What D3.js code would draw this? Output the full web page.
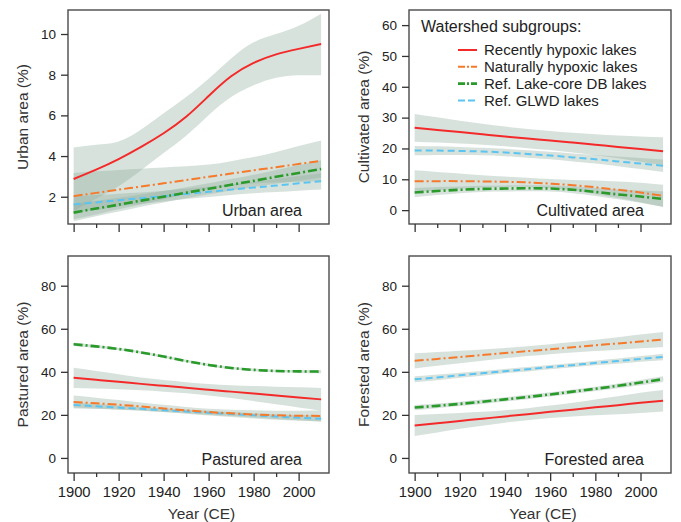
<!DOCTYPE html>
<html>
<head>
<meta charset="utf-8">
<script src="https://cdn.jsdelivr.net/npm/d3@7"></script>
<style>
  body { margin: 0; background: #fff; }
  svg { display: block; font-family: "Liberation Sans", Arial, sans-serif; }
</style>
</head>
<body>
<script>
var svgW = 681;
var svgH = 522;

// data
var years = [1900, 1910, 1920, 1930, 1940, 1950, 1960, 1970, 1980, 1990, 2000, 2010];
var groups = ["Recently hypoxic lakes", "Naturally hypoxic lakes", "Ref. Lake-core DB lakes", "Ref. GLWD lakes"];
var yearTicks = [1900, 1910, 1920, 1930, 1940, 1950, 1960, 1970, 1980, 1990, 2000];

var urbanTicks = [2, 4, 6, 8, 10];
var cultTicks = [0, 10, 20, 30, 40, 50, 60];
var pastTicks = [0, 20, 40, 60, 80];
var forTicks = [0, 20, 40, 60, 80];

// urban area
var urbanRed = [2.87, 3.33, 3.85, 4.45, 5.12, 5.93, 6.95, 7.92, 8.58, 9.0, 9.27, 9.51];
var urbanRedLo = [1.3, 1.9, 2.52, 3.3, 4.15, 5.0, 6.01, 6.9, 7.48, 7.85, 7.97, 7.97];
var urbanRedHi = [4.42, 4.55, 4.71, 5.3, 6.1, 6.9, 7.8, 8.8, 9.59, 10.0, 10.4, 11.0];
var urbanOrange = [2.03, 2.19, 2.35, 2.50, 2.66, 2.82, 2.98, 3.14, 3.30, 3.45, 3.61, 3.77];
var urbanOrangeLo = [0.89, 1.13, 1.38, 1.62, 1.88, 2.14, 2.38, 2.53, 2.65, 2.7, 2.72, 2.77];
var urbanOrangeHi = [3.17, 3.25, 3.32, 3.38, 3.44, 3.5, 3.58, 3.75, 3.95, 4.2, 4.5, 4.77];
var urbanGreen = [1.22, 1.42, 1.61, 1.81, 2.0, 2.2, 2.39, 2.59, 2.78, 2.98, 3.17, 3.37];
var urbanGreenCi = [0.42, 0.38, 0.34, 0.3, 0.28, 0.27, 0.27, 0.28, 0.3, 0.34, 0.38, 0.42];
var urbanBlue = [1.62, 1.72, 1.83, 1.93, 2.03, 2.14, 2.24, 2.35, 2.45, 2.55, 2.66, 2.76];
var urbanBlueCi = [0.4, 0.36, 0.32, 0.28, 0.26, 0.25, 0.25, 0.26, 0.28, 0.32, 0.36, 0.4];

// cultivated area
var cultRed = [26.7, 26.0, 25.3, 24.6, 23.9, 23.2, 22.6, 21.9, 21.2, 20.5, 19.8, 19.1];
var cultRedCi = [4.5, 4.1, 3.7, 3.4, 3.2, 3.1, 3.1, 3.2, 3.4, 3.7, 4.1, 4.5];
var cultOrange = [9.4, 9.4, 9.4, 9.3, 9.2, 9.0, 8.6, 8.1, 7.4, 6.6, 5.7, 4.6];
var cultOrangeCi = [3.5, 3.0, 2.5, 2.0, 1.7, 1.5, 1.5, 1.7, 2.2, 2.7, 3.2, 3.6];
var cultGreen = [5.7, 6.2, 6.6, 6.9, 7.0, 7.1, 7.0, 6.6, 5.9, 5.1, 4.4, 3.6];
var cultGreenCi = [1.5, 1.3, 1.1, 1.0, 1.0, 1.0, 1.0, 1.1, 1.3, 1.6, 2.0, 2.5];
var cultBlue = [19.3, 19.3, 19.2, 19.0, 18.7, 18.2, 17.7, 17.1, 16.5, 15.8, 15.1, 14.4];
var cultBlueCi = [1.5, 1.4, 1.3, 1.2, 1.2, 1.2, 1.2, 1.3, 1.4, 1.6, 1.8, 2.0];

// pastured area
var pastRed = [37.2, 36.3, 35.4, 34.4, 33.5, 32.6, 31.7, 30.8, 29.9, 29.0, 28.1, 27.2];
var pastRedCi = [4.7, 4.1, 3.5, 3.0, 2.7, 2.6, 2.7, 3.0, 3.5, 4.1, 4.7, 5.3];
var pastOrange = [26.0, 25.4, 24.7, 23.9, 23.0, 22.1, 21.3, 20.7, 20.2, 19.8, 19.6, 19.5];
var pastOrangeCi = [3.0, 2.6, 2.2, 1.9, 1.7, 1.6, 1.6, 1.7, 1.9, 2.1, 2.3, 2.5];
var pastGreen = [52.8, 51.8, 50.6, 49.0, 47.1, 45.0, 43.2, 41.8, 40.9, 40.4, 40.2, 40.1];
var pastGreenCi = [0.8, 0.7, 0.6, 0.6, 0.6, 0.6, 0.6, 0.6, 0.6, 0.6, 0.7, 0.8];
var pastBlue = [24.6, 24.0, 23.4, 22.8, 22.2, 21.6, 21.0, 20.4, 19.8, 19.2, 18.7, 18.2];
var pastBlueCi = [1.2, 1.1, 1.0, 0.9, 0.9, 0.9, 0.9, 0.9, 1.0, 1.1, 1.2, 1.4];

// forested area
var forRed = [15.1, 16.1, 17.2, 18.2, 19.3, 20.3, 21.4, 22.4, 23.5, 24.5, 25.6, 26.6];
var forRedCi = [4.9, 4.3, 3.7, 3.2, 2.9, 2.8, 2.9, 3.2, 3.7, 4.2, 4.7, 5.0];
var forOrange = [45.1, 46.0, 46.9, 47.8, 48.7, 49.6, 50.5, 51.4, 52.3, 53.2, 54.1, 55.0];
var forOrangeCi = [3.5, 3.2, 2.9, 2.6, 2.4, 2.3, 2.3, 2.4, 2.6, 2.9, 3.2, 3.5];
var forGreen = [23.4, 24.2, 25.1, 26.1, 27.2, 28.3, 29.5, 30.8, 32.1, 33.5, 35.0, 36.6];
var forGreenCi = [1.2, 1.1, 1.0, 1.0, 1.0, 1.0, 1.0, 1.0, 1.0, 1.1, 1.2, 1.3];
var forBlue = [36.5, 37.4, 38.4, 39.3, 40.3, 41.2, 42.2, 43.1, 44.1, 45.0, 46.0, 46.9];
var forBlueCi = [1.4, 1.3, 1.2, 1.1, 1.0, 1.0, 1.0, 1.0, 1.1, 1.2, 1.3, 1.5];

// helpers to turn value + half width into lower/upper
function lo(v, c) { return v.map(function(d, i) { return d - c[i]; }); }
function hi(v, c) { return v.map(function(d, i) { return d + c[i]; }); }

// line styles: red, orange, green, blue
var colors = ["#f42a2a", "#f57a2c", "#2a9a2a", "#5cc4f0"];
var dashes = [null, "9,3,2,3", "9,3,2,3", "7,4"];
var widths = [2, 2, 2.6, 2];

var panels = [
  { x0: 68, x1: 329, y0: 10, y1: 224, dom: [0.66, 11.18], ticks: urbanTicks,
    title: "Urban area (%)", label: "Urban area", xlab: false,
    series: [
      [urbanRed, urbanRedLo, urbanRedHi],
      [urbanOrange, urbanOrangeLo, urbanOrangeHi],
      [urbanGreen, lo(urbanGreen, urbanGreenCi), hi(urbanGreen, urbanGreenCi)],
      [urbanBlue, lo(urbanBlue, urbanBlueCi), hi(urbanBlue, urbanBlueCi)]
    ] },
  { x0: 409, x1: 671, y0: 10, y1: 224, dom: [-4.5, 64.9], ticks: cultTicks,
    title: "Cultivated area (%)", label: "Cultivated area", xlab: false,
    series: [
      [cultRed, lo(cultRed, cultRedCi), hi(cultRed, cultRedCi)],
      [cultOrange, lo(cultOrange, cultOrangeCi), hi(cultOrange, cultOrangeCi)],
      [cultGreen, lo(cultGreen, cultGreenCi), hi(cultGreen, cultGreenCi)],
      [cultBlue, lo(cultBlue, cultBlueCi), hi(cultBlue, cultBlueCi)]
    ] },
  { x0: 68, x1: 329, y0: 256, y1: 473, dom: [-7, 93.8], ticks: pastTicks,
    title: "Pastured area (%)", label: "Pastured area", xlab: true,
    series: [
      [pastRed, lo(pastRed, pastRedCi), hi(pastRed, pastRedCi)],
      [pastOrange, lo(pastOrange, pastOrangeCi), hi(pastOrange, pastOrangeCi)],
      [pastGreen, lo(pastGreen, pastGreenCi), hi(pastGreen, pastGreenCi)],
      [pastBlue, lo(pastBlue, pastBlueCi), hi(pastBlue, pastBlueCi)]
    ] },
  { x0: 409, x1: 671, y0: 256, y1: 473, dom: [-7, 93.8], ticks: forTicks,
    title: "Forested area (%)", label: "Forested area", xlab: true,
    series: [
      [forRed, lo(forRed, forRedCi), hi(forRed, forRedCi)],
      [forOrange, lo(forOrange, forOrangeCi), hi(forOrange, forOrangeCi)],
      [forGreen, lo(forGreen, forGreenCi), hi(forGreen, forGreenCi)],
      [forBlue, lo(forBlue, forBlueCi), hi(forBlue, forBlueCi)]
    ] }
];

var svg = d3.select("body")
  .append("svg")
  .attr("width", svgW)
  .attr("height", svgH);

panels.forEach(function(p) {
  var x = d3.scaleLinear().domain([1897.5, 2013.5]).range([p.x0, p.x1]);
  var y = d3.scaleLinear().domain(p.dom).range([p.y1, p.y0]);
  var g = svg.append("g");

  var area = d3.area()
    .x(function(d, i) { return x(years[i]); })
    .y0(function(d) { return y(d[0]); })
    .y1(function(d) { return y(d[1]); })
    .curve(d3.curveNatural);

  var line = d3.line()
    .x(function(d, i) { return x(years[i]); })
    .y(function(d) { return y(d); })
    .curve(d3.curveNatural);

  // ci bands
  p.series.forEach(function(s) {
    g.append("path")
      .datum(s[1].map(function(d, i) { return [d, s[2][i]]; }))
      .attr("d", area)
      .attr("fill", "#8fae9e")
      .attr("fill-opacity", 0.36);
  });

  // draw lines, red last so it sits on top
  [3, 2, 1, 0].forEach(function(k) {
    g.append("path")
      .datum(p.series[k][0])
      .attr("d", line)
      .attr("fill", "none")
      .attr("stroke", colors[k])
      .attr("stroke-width", widths[k])
      .attr("stroke-dasharray", dashes[k]);
  });

  // box
  g.append("rect")
    .attr("x", p.x0)
    .attr("y", p.y0)
    .attr("width", p.x1 - p.x0)
    .attr("height", p.y1 - p.y0)
    .attr("fill", "none")
    .attr("stroke", "#4a4a4a")
    .attr("stroke-width", 1.4);

  // y axis
  var yAxis = d3.axisLeft(y).tickValues(p.ticks).tickSize(7).tickPadding(5);
  var ya = g.append("g")
    .attr("transform", "translate(" + p.x0 + ",0)")
    .call(yAxis);
  ya.select(".domain").remove();
  ya.selectAll("line").attr("stroke", "#333").attr("stroke-width", 1.3);
  ya.selectAll("text")
    .attr("font-size", "13.5px")
    .attr("font-family", "Liberation Sans, Arial, sans-serif")
    .attr("fill", "#222");

  // x axis
  var xAxis = d3.axisBottom(x).tickValues(yearTicks)
    .tickSize(4).tickPadding(6)
    .tickFormat(function(d) { return (p.xlab && d % 20 === 0) ? d : ""; });
  var xa = g.append("g")
    .attr("transform", "translate(0," + p.y1 + ")")
    .call(xAxis);
  xa.select(".domain").remove();
  xa.selectAll("line")
    .attr("y2", function(d) { return d % 20 === 0 ? 8 : 4; })
    .attr("stroke", "#333").attr("stroke-width", 1.3);
  xa.selectAll("text")
    .attr("y", 13)
    .attr("font-size", "14.8px")
    .attr("font-family", "Liberation Sans, Arial, sans-serif")
    .attr("fill", "#222");

  if (p.xlab) {
    g.append("text")
      .attr("x", (p.x0 + p.x1) / 2 + 3)
      .attr("y", 519)
      .attr("text-anchor", "middle")
      .attr("font-size", "15.5px")
      .attr("fill", "#333")
      .text("Year (CE)");
  }

  // y title
  g.append("text")
    .attr("transform", "translate(" + (p.x0 - 40) + "," + ((p.y0 + p.y1) / 2) + ") rotate(-90)")
    .attr("text-anchor", "middle")
    .attr("font-size", "15.5px")
    .attr("fill", "#333")
    .text(p.title);

  // panel label
  g.append("text")
    .attr("x", p.x1 - 27)
    .attr("y", p.y1 - 8)
    .attr("text-anchor", "end")
    .attr("font-size", "16px")
    .attr("fill", "#222")
    .text(p.label);
});

// legend in cultivated panel
var rowH = 16.8;
var legend = svg.append("g");
legend.append("text")
  .attr("x", 421)
  .attr("y", 32)
  .attr("font-size", "16px")
  .attr("fill", "#222")
  .text("Watershed subgroups:");

legend.selectAll("line")
  .data(groups)
  .enter()
  .append("line")
  .attr("x1", 458)
  .attr("x2", 477)
  .attr("y1", function(d, i) { return 50 + i * rowH; })
  .attr("y2", function(d, i) { return 50 + i * rowH; })
  .attr("stroke", function(d, i) { return colors[i]; })
  .attr("stroke-width", function(d, i) { return widths[i]; })
  .attr("stroke-dasharray", function(d, i) { return dashes[i] ? (i == 3 ? "7,3" : "7,2,2,2") : null; });

legend.selectAll("text.item")
  .data(groups)
  .enter()
  .append("text")
  .attr("class", "item")
  .attr("x", 484)
  .attr("y", function(d, i) { return 50 + i * rowH + 5.3; })
  .attr("font-size", "15px")
  .attr("fill", "#222")
  .text(function(d) { return d; });
</script>
</body>
</html>
